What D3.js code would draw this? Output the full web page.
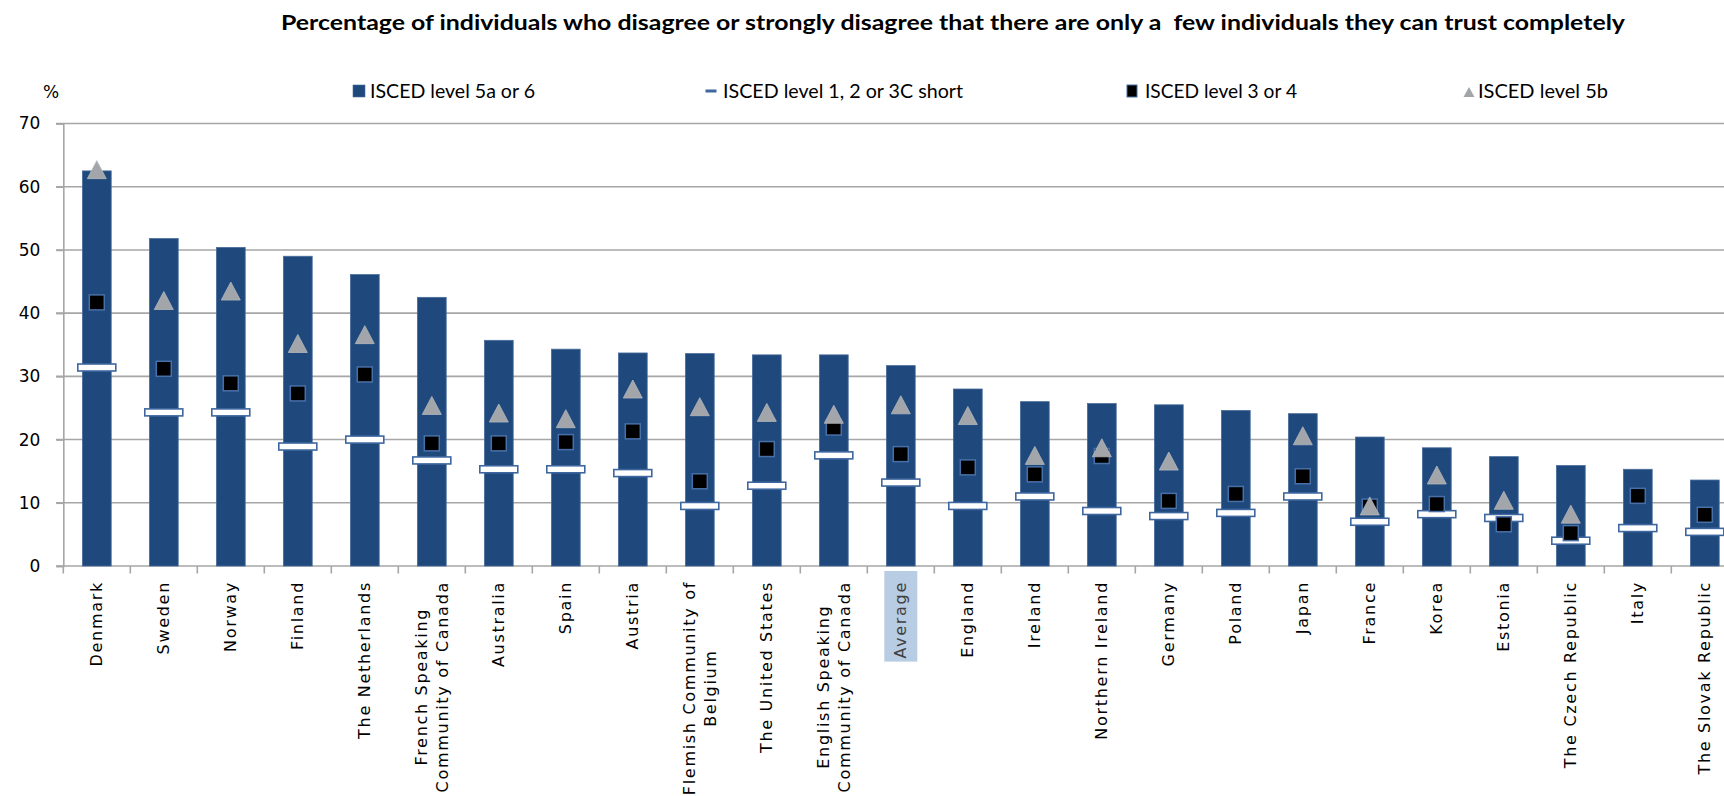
<!DOCTYPE html>
<html>
<head>
<meta charset="utf-8">
<script src="https://cdn.jsdelivr.net/npm/d3@7"></script>
<style>
  html, body { margin: 0; padding: 0; background: #ffffff; }
  svg { display: block; }
</style>
</head>
<body>
<script>
// Trust survey: share disagreeing that only a few people can be trusted completely,
// by educational attainment (ISCED level).
const categories = [
  "Denmark", "Sweden", "Norway", "Finland", "The Netherlands",
  "French Speaking\nCommunity of Canada", "Australia", "Spain", "Austria",
  "Flemish Community of\nBelgium", "The United States",
  "English Speaking\nCommunity of Canada", "Average", "England", "Ireland",
  "Northern Ireland", "Germany", "Poland", "Japan", "France", "Korea",
  "Estonia", "The Czech Republic", "Italy", "The Slovak Republic"
];

// ISCED level 5a or 6 (bars)
const level5a6 = [62.5, 51.8, 50.4, 49.0, 46.1, 42.5, 35.7, 34.3, 33.7, 33.6, 33.4, 33.4,
                  31.7, 28.0, 26.0, 25.7, 25.5, 24.6, 24.1, 20.4, 18.7, 17.3, 15.9, 15.3, 13.6];
// ISCED level 1, 2 or 3C short (dash markers)
const level123C = [31.4, 24.3, 24.3, 18.9, 20.0, 16.7, 15.3, 15.3, 14.7, 9.5, 12.7, 17.5,
                   13.2, 9.5, 11.0, 8.7, 7.9, 8.4, 11.0, 7.0, 8.2, 7.6, 4.0, 6.0, 5.4];
// ISCED level 3 or 4 (square markers)
const level34 = [41.7, 31.2, 28.9, 27.3, 30.3, 19.4, 19.4, 19.6, 21.3, 13.4, 18.5, 21.9,
                 17.7, 15.6, 14.5, 17.4, 10.3, 11.4, 14.2, 9.4, 9.8, 6.6, 5.2, 11.1, 8.1];
// ISCED level 5b (triangle markers); null where not reported
const level5b = [62.7, 42.0, 43.5, 35.2, 36.6, 25.4, 24.2, 23.3, 28.0, 25.2, 24.3, 24.0,
                 25.5, 23.8, 17.5, 18.7, 16.6, null, 20.6, 9.5, 14.4, 10.4, 8.2, null, null];

const yTicks = [0, 10, 20, 30, 40, 50, 60, 70];

const seriesNames = ["ISCED level 5a or 6", "ISCED level 1, 2 or 3C short",
                     "ISCED level 3 or 4", "ISCED level 5b"];
const titleText = "Percentage of individuals who disagree or strongly disagree that there are only a\u00a0 few individuals they can trust completely";

const W = 1724, H = 796;
const BAR = "#1f497d", GRID = "#a6a6a6";
const TXT_FONT = "'DejaVu Sans', Verdana, sans-serif";
const HEAD_FONT = "Lato, 'Open Sans', sans-serif";

const svg = d3.select("body").append("svg").attr("width", W).attr("height", H);

const x = d3.scaleBand().domain(categories).range([63.3, 1738.3]).paddingInner(0).paddingOuter(0);
const y = d3.scaleLinear().domain([0, 70]).range([566, 123.5]);
const bw = x.bandwidth();
const cx = c => x(c) + bw / 2;
const barW = bw * 0.43;

// Title
svg.append("text")
  .attr("x", 281).attr("y", 30)
  .attr("textLength", 1344).attr("lengthAdjust", "spacingAndGlyphs")
  .style("font-family", HEAD_FONT).style("font-weight", 700).style("font-size", "21px")
  .style("fill", "#000")
  .text(titleText);

// Unit label
svg.append("text").attr("x", 43).attr("y", 98)
  .style("font-family", TXT_FONT).style("font-size", "17px").style("fill", "#000")
  .text("%");

// Gridlines
svg.append("g").selectAll("line").data(yTicks.filter(v => v > 0)).join("line")
  .attr("x1", 56).attr("x2", W)
  .attr("y1", d => y(d)).attr("y2", d => y(d))
  .attr("stroke", GRID).attr("stroke-width", 1.6);

// Y axis
const yAxis = svg.append("g").attr("transform", `translate(${x.range()[0]},0)`)
  .call(d3.axisLeft(y).tickValues(yTicks).tickSize(7).tickPadding(16).tickFormat(d3.format("d")));
yAxis.select(".domain").attr("stroke", GRID).attr("stroke-width", 1.6);
yAxis.selectAll(".tick line").attr("stroke", GRID).attr("stroke-width", 1.6);
yAxis.selectAll(".tick text")
  .style("font-family", TXT_FONT).style("font-size", "17px").style("fill", "#000");

// X axis baseline and category boundary ticks
svg.append("line").attr("x1", 56).attr("x2", W).attr("y1", y(0)).attr("y2", y(0))
  .attr("stroke", GRID).attr("stroke-width", 1.6);
svg.append("g").selectAll("line").data(categories).join("line")
  .attr("x1", d => x(d)).attr("x2", d => x(d))
  .attr("y1", y(0)).attr("y2", y(0) + 7.5)
  .attr("stroke", GRID).attr("stroke-width", 1.6);

// Bars: ISCED level 5a or 6
svg.append("g").selectAll("rect").data(categories).join("rect")
  .attr("x", d => cx(d) - barW / 2)
  .attr("y", (d, i) => y(level5a6[i]))
  .attr("width", barW)
  .attr("height", (d, i) => y(0) - y(level5a6[i]))
  .attr("fill", BAR).attr("stroke", "#4a6d9c").attr("stroke-width", 0.8);

// Dash markers: ISCED level 1, 2 or 3C short
svg.append("g").selectAll("rect").data(categories).join("rect")
  .attr("x", d => cx(d) - 19)
  .attr("y", (d, i) => y(level123C[i]) - 3.5)
  .attr("width", 38).attr("height", 7)
  .attr("fill", "#ffffff").attr("stroke", "#3f679f").attr("stroke-width", 1.6);

// Square markers: ISCED level 3 or 4
svg.append("g").selectAll("rect").data(categories).join("rect")
  .attr("x", d => cx(d) - 7.5)
  .attr("y", (d, i) => y(level34[i]) - 7.5)
  .attr("width", 15).attr("height", 15)
  .attr("fill", "#000000").attr("stroke", "#4870a8").attr("stroke-width", 1.5);

// Triangle markers: ISCED level 5b
const tri = (px, py, w, h) => `M${px},${py - h / 2}L${px + w / 2},${py + h / 2}L${px - w / 2},${py + h / 2}Z`;
svg.append("g").selectAll("path")
  .data(categories.map((c, i) => ({ c, v: level5b[i] })).filter(d => d.v != null))
  .join("path")
  .attr("d", d => tri(cx(d.c), y(d.v), 19, 18))
  .attr("fill", "#a2a5aa").attr("stroke", "#b3b7bd").attr("stroke-width", 0.8);

// Category labels, rotated, reading bottom-to-top and hanging from the axis
const labelTop = 581;
const labels = svg.append("g");
categories.forEach(c => {
  const lines = c.split("\n");
  const g = labels.append("g").attr("transform", `translate(${cx(c)},${labelTop}) rotate(-90)`);
  const isAvg = c === "Average";
  const texts = lines.map((ln, j) => g.append("text")
    .attr("x", 0)
    .attr("y", (j - (lines.length - 1) / 2) * 21)
    .attr("dy", "0.35em")
    .style("font-family", TXT_FONT).style("font-size", "16px")
    .style("letter-spacing", "1.7px")
    .style("fill", isAvg ? "#404040" : "#000")
    .text(ln));
  const lens = texts.map(t => t.node().getComputedTextLength());
  const maxLen = d3.max(lens);
  texts.forEach(t => t.attr("x", -maxLen / 2).attr("text-anchor", "middle"));
  if (isAvg) {
    g.insert("rect", "text")
      .attr("x", -maxLen - 3).attr("y", -16.5)
      .attr("width", maxLen + 13).attr("height", 33)
      .attr("fill", "#b8cce4");
  }
});

// Legend
const legY = 91;
const leg = svg.append("g");
const legendItems = [
  { name: seriesNames[0], mx: 359, tx: 370, len: 165 },
  { name: seriesNames[1], mx: 711, tx: 723, len: 240 },
  { name: seriesNames[2], mx: 1132, tx: 1145, len: 152 },
  { name: seriesNames[3], mx: 1469, tx: 1478, len: 130 }
];
leg.append("rect").attr("x", legendItems[0].mx - 6).attr("y", legY - 6).attr("width", 12).attr("height", 12)
  .attr("fill", BAR).attr("stroke", "#4a6d9c").attr("stroke-width", 0.6);
leg.append("rect").attr("x", legendItems[1].mx - 5.5).attr("y", legY - 1.5).attr("width", 11).attr("height", 3)
  .attr("fill", "#3f679f");
leg.append("rect").attr("x", legendItems[2].mx - 5).attr("y", legY - 6).attr("width", 10).attr("height", 12)
  .attr("fill", "#000").attr("stroke", "#4870a8").attr("stroke-width", 1);
leg.append("path").attr("d", tri(legendItems[3].mx, legY + 1, 11, 10)).attr("fill", "#a2a5aa");
leg.selectAll("text").data(legendItems).join("text")
  .attr("x", d => d.tx).attr("y", legY).attr("dy", "0.36em")
  .attr("textLength", d => d.len).attr("lengthAdjust", "spacingAndGlyphs")
  .style("font-family", HEAD_FONT).style("font-size", "19px").style("fill", "#000")
  .text(d => d.name);
</script>
</body>
</html>
